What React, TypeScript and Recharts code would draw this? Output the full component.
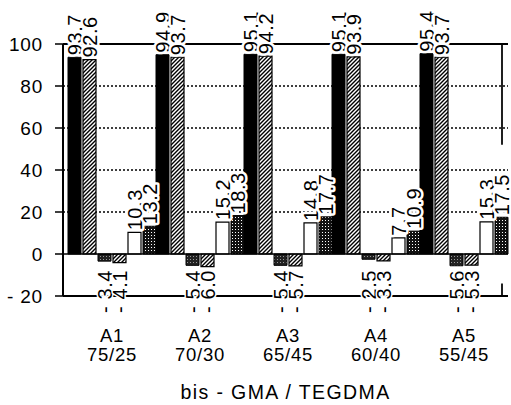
import React from 'react';
import { ComposedChart, Bar, Line, XAxis, YAxis, CartesianGrid, ReferenceLine, ReferenceArea, LabelList } from 'recharts';

const groups = ['A1', 'A2', 'A3', 'A4', 'A5'];
const ratios = ['75/25', '70/30', '65/45', '60/40', '55/45'];
const solidValues = [93.7, 94.9, 95.1, 95.1, 95.4];
const hatchedValues = [92.6, 93.7, 94.2, 93.9, 93.7];
const negStippleValues = [-3.4, -5.4, -5.4, -2.5, -5.6];
const negHatchedValues = [-4.1, -6.0, -5.7, -3.3, -5.3];
const whiteValues = [10.3, 15.2, 14.8, 7.7, 15.3];
const stippleValues = [13.2, 18.3, 17.7, 10.9, 17.5];
const groupCenters = [0.5, 1.5, 2.5, 3.5, 4.5];
const yTicks = [-20, 0, 20, 40, 60, 80, 100];
const gridValues = [20, 40, 60, 80];
const boundaryTicks = [0, 1, 2, 3, 4, 5];
const axisTitle = 'bis - GMA / TEGDMA';

const data = groups.map((g, i) => ({
  group: g,
  ratio: ratios[i],
  pos: groupCenters[i],
  s1: solidValues[i],
  s2: hatchedValues[i],
  s3: negStippleValues[i],
  s4: negHatchedValues[i],
  s5: whiteValues[i],
  s6: stippleValues[i],
}));

const FONT = '"Liberation Sans", Arial, Helvetica, sans-serif';
const CHART_W = 511;
const CHART_H = 405;
const M_TOP = 44;
const M_BOTTOM = 108;
const PLOT_BOTTOM = CHART_H - M_BOTTOM - 2; // bottom of the plot area (value -20)
const NEG_LABEL_ROW = PLOT_BOTTOM + 18;

const BarValueLabel = (props: any) => {
  const vb = props.viewBox ?? props;
  const x = Number(vb.x ?? props.x);
  const y = Number(vb.y ?? props.y);
  const w = Number(vb.width ?? props.width);
  const h = Number(vb.height ?? props.height);
  const value = Number(props.value);
  if (!isFinite(x) || !isFinite(y) || !isFinite(value)) return null;
  const cx = x + w / 2;
  const top = Math.min(y, y + h);
  let ty: number;
  let text: string;
  if (value >= 0) {
    ty = top - 2;
    text = value.toFixed(1);
  } else {
    ty = NEG_LABEL_ROW;
    text = '- ' + Math.abs(value).toFixed(1);
  }
  return (
    <text
      transform={`translate(${cx},${ty}) rotate(-90)`}
      textAnchor="start"
      dominantBaseline="central"
      fontSize={20}
      fontFamily={FONT}
      letterSpacing={0.6}
      fill="#000"
      stroke="#fff"
      strokeWidth={value >= 0 ? 5 : 3}
      strokeLinejoin="round"
      paintOrder="stroke"
    >
      {text}
    </text>
  );
};

const GroupTick = (props: any) => {
  const { x, y, payload } = props;
  const idx = payload?.index ?? props.index ?? 0;
  return (
    <text x={x} y={y + 46} textAnchor="middle" fontSize={18.5} fontFamily={FONT} letterSpacing={0.7} fill="#000">
      <tspan x={x}>{payload.value}</tspan>
      <tspan x={x} dy={19}>{ratios[idx]}</tspan>
    </text>
  );
};

const TitleLabel = (props: any) => {
  const vb = props.viewBox ?? {};
  return (
    <text
      x={vb.x + vb.width / 2}
      y={vb.y + 103}
      textAnchor="middle"
      fontSize={19.5}
      fontFamily={FONT}
      letterSpacing={1.4}
      fill="#000"
    >
      {axisTitle}
    </text>
  );
};

export default function App() {
  return (
    <div style={{ position: 'absolute', left: 0, top: 0, width: CHART_W, height: CHART_H, background: '#fff' }}>
      <ComposedChart
        width={CHART_W}
        height={CHART_H}
        data={data}
        margin={{ top: M_TOP, right: 3, bottom: M_BOTTOM, left: 0 }}
        barCategoryGap={0}
        barGap={2}
      >
        <defs>
          <pattern id="hatch" patternUnits="userSpaceOnUse" width="4" height="4">
            <rect width="4" height="4" fill="#fff" />
            <path d="M-1,1 l2,-2 M0,4 l4,-4 M3,5 l2,-2" stroke="#000" strokeWidth="1.4" />
          </pattern>
          <pattern id="stipple" patternUnits="userSpaceOnUse" width="3" height="3">
            <rect width="3" height="3" fill="#111" />
            <rect x="1" y="1" width="1" height="1" fill="#fff" />
          </pattern>
          <pattern id="stipple2" patternUnits="userSpaceOnUse" width="3" height="3">
            <rect width="3" height="3" fill="#222" />
            <rect x="1" y="1" width="1" height="1" fill="#999" />
          </pattern>
        </defs>
        <CartesianGrid
          xAxisId="c"
          vertical={false}
          horizontalValues={gridValues}
          stroke="#000"
          strokeWidth={1.3}
          strokeDasharray="2 2"
        />
        <XAxis
          xAxisId="n"
          dataKey="pos"
          type="number"
          domain={[0, 5]}
          ticks={boundaryTicks}
          allowDataOverflow
          tick={false}
          tickSize={6}
          mirror
          height={1}
          padding={{ left: 0, right: 6 }}
          axisLine={{ stroke: '#000', strokeWidth: 2 }}
          tickLine={{ stroke: '#000', strokeWidth: 1.5 }}
        />
        <XAxis
          xAxisId="c"
          dataKey="group"
          type="category"
          height={1}
          axisLine={false}
          tickLine={false}
          tickSize={0}
          tickMargin={0}
          interval={0}
          padding={{ left: 5, right: 0 }}
          tick={<GroupTick />}
          label={{ content: <TitleLabel /> } as any}
        />
        <YAxis
          type="number"
          domain={[-20, 100]}
          ticks={yTicks}
          interval={0}
          width={63}
          tickSize={8}
          tickMargin={12}
          axisLine={{ stroke: '#000', strokeWidth: 2 }}
          tickLine={{ stroke: '#000', strokeWidth: 1.5 }}
          tick={{ fill: '#000', fontSize: 19, fontFamily: FONT, letterSpacing: 0.8 }}
          tickFormatter={(v: number) => (v < 0 ? '- ' + Math.abs(v) : String(v))}
        />
        <ReferenceLine xAxisId="n" y={100} stroke="#000" strokeWidth={2} />
        <ReferenceLine xAxisId="n" y={0} stroke="#000" strokeWidth={1.5} />
        <ReferenceArea
          xAxisId="n"
          ifOverflow="visible"
          x1={4.99}
          x2={5.01}
          y1={52}
          y2={100}
          fill="#000"
          fillOpacity={1}
          stroke="none"
        />
        <ReferenceArea
          xAxisId="n"
          ifOverflow="visible"
          x1={4.99}
          x2={5.01}
          y1={-20}
          y2={-14}
          fill="#000"
          fillOpacity={1}
          stroke="none"
        />
        <Line
          xAxisId="n"
          dataKey="s1"
          stroke="none"
          dot={false}
          activeDot={false}
          legendType="none"
          isAnimationActive={false}
        />
        <Bar xAxisId="c" dataKey="s1" fill="#000" stroke="#000" strokeWidth={1} isAnimationActive={false}>
          <LabelList dataKey="s1" content={<BarValueLabel />} />
        </Bar>
        <Bar xAxisId="c" dataKey="s2" fill="url(#hatch)" stroke="#000" strokeWidth={1.2} isAnimationActive={false}>
          <LabelList dataKey="s2" content={<BarValueLabel />} />
        </Bar>
        <Bar xAxisId="c" dataKey="s3" fill="url(#stipple2)" stroke="#000" strokeWidth={1} isAnimationActive={false}>
          <LabelList dataKey="s3" content={<BarValueLabel />} />
        </Bar>
        <Bar xAxisId="c" dataKey="s4" fill="url(#hatch)" stroke="#000" strokeWidth={1.2} isAnimationActive={false}>
          <LabelList dataKey="s4" content={<BarValueLabel />} />
        </Bar>
        <Bar xAxisId="c" dataKey="s5" fill="#fff" stroke="#000" strokeWidth={1.2} isAnimationActive={false}>
          <LabelList dataKey="s5" content={<BarValueLabel />} />
        </Bar>
        <Bar xAxisId="c" dataKey="s6" fill="url(#stipple)" stroke="#000" strokeWidth={1} isAnimationActive={false}>
          <LabelList dataKey="s6" content={<BarValueLabel />} />
        </Bar>
      </ComposedChart>
    </div>
  );
}
